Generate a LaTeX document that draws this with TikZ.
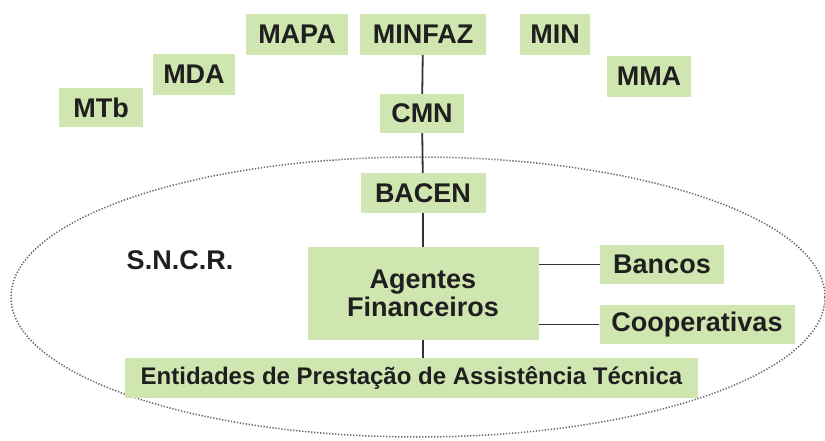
\documentclass[tikz,border=0pt]{standalone}
\usepackage{fontspec}
\setmainfont{Liberation Sans}
\definecolor{verde}{RGB}{208,230,176}
\definecolor{linha}{RGB}{50,50,50}

\begin{document}
\begin{tikzpicture}[x=1pt, y=-1pt,
  caixa/.style={fill=verde, inner sep=0pt, text=black!88, font=\fontsize{27}{28}\selectfont\bfseries},
  liga/.style={draw=linha, line width=1.8pt}]
\useasboundingbox (0,0) rectangle (825,441);
\draw[black!60, line width=1.5pt, dash pattern=on 1.3pt off 1.7pt] (418,297) ellipse [x radius=407pt, y radius=140pt];
\node[caixa, minimum width=102pt, minimum height=41pt] (mapa) at (297,34.5) {MAPA};
\node[caixa, minimum width=126pt, minimum height=41pt] (minfaz) at (423,34.5) {MINFAZ};
\node[caixa, minimum width=70pt, minimum height=41pt] (min) at (555,34.5) {MIN};
\node[caixa, minimum width=84pt, minimum height=41pt] (mma) at (649,76.5) {MMA};
\node[caixa, minimum width=82pt, minimum height=41pt] (mda) at (194,74.5) {MDA};
\node[caixa, minimum width=84pt, minimum height=39pt] (mtb) at (101,107.5) {MTb};
\node[caixa, minimum width=84pt, minimum height=39pt] (cmn) at (422,113.5) {CMN};
\node[caixa, minimum width=125pt, minimum height=40pt] (bacen) at (423,193) {BACEN};
\node[caixa, minimum width=231pt, minimum height=93pt, align=center] (agentes) at (423,293.5) {Agentes\\Financeiros};
\node[caixa, minimum width=124pt, minimum height=39pt] (bancos) at (662,264.5) {Bancos};
\node[caixa, minimum width=195pt, minimum height=39pt] (coop) at (697,324.5) {Cooperativas};
\node[caixa, minimum width=573pt, minimum height=40pt, font=\fontsize{24}{26}\selectfont\bfseries] (entidades) at (411.5,378) {Entidades de Prestação de Assistência Técnica};
\node[text=black!88, font=\fontsize{27}{28}\selectfont\bfseries] (sncr) at (180,260) {S.N.C.R.};
\draw[liga] (minfaz) -- (cmn);
\draw[liga] (cmn) -- (bacen);
\draw[liga] (bacen) -- (agentes);
\draw[liga] (agentes) -- (agentes |- entidades.north);
\draw[liga] (agentes.east |- bancos) -- (bancos);
\draw[liga] (agentes.east |- coop) -- (coop);
\end{tikzpicture}
\end{document}
